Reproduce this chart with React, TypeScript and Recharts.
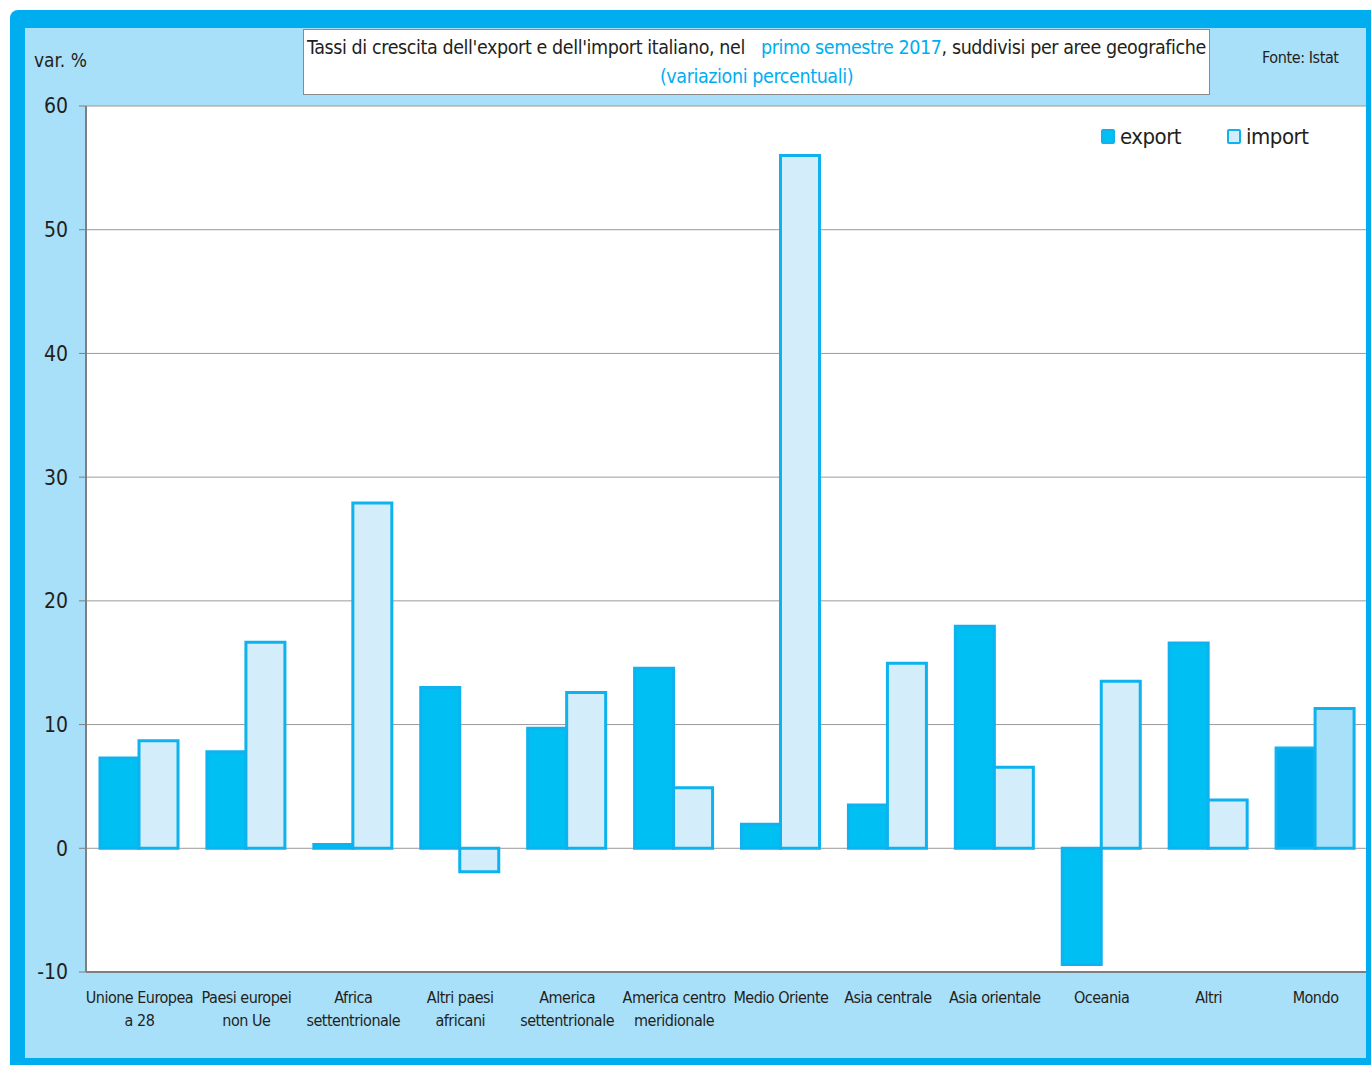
import React from 'react'
import { BarChart, Bar, XAxis, YAxis, CartesianGrid, Cell, Legend } from 'recharts'

const categories = [
  'Unione Europea\na 28',
  'Paesi europei\nnon Ue',
  'Africa\nsettentrionale',
  'Altri paesi\nafricani',
  'America\nsettentrionale',
  'America centro\nmeridionale',
  'Medio Oriente',
  'Asia centrale',
  'Asia orientale',
  'Oceania',
  'Altri',
  'Mondo',
]
const exportValues = [7.3, 7.8, 0.3, 13.0, 9.7, 14.55, 1.95, 3.5, 17.95, -9.4, 16.6, 8.1]
const importValues = [8.7, 16.65, 27.9, -1.9, 12.6, 4.9, 56.0, 14.95, 6.55, 13.5, 3.9, 11.3]
const yTicks = [-10, 0, 10, 20, 30, 40, 50, 60]

const data = categories.map((name, i) => ({
  name,
  export: exportValues[i],
  import: importValues[i],
}))

const FONT = '"DejaVu Sans Condensed", "Noto Sans", sans-serif'
const DARK = '#00AEEF'
const LIGHT_BG = '#A9E0F9'
const EXPORT_FILL = '#00C0F3'
const IMPORT_FILL = '#D3EEFA'
const STROKE = '#0DB2EE'
const TEXT = '#231F20'

// two-line category labels
const CategoryTick = ({ x, y, payload }: any) => {
  const lines = String(payload.value).split('\n')
  return (
    <text
      x={x}
      y={y + 23}
      textAnchor="middle"
      fill={TEXT}
      fontSize={16}
      letterSpacing={-0.5}
      fontFamily={FONT}
    >
      {lines.map((l, i) => (
        <tspan key={i} x={x} dy={i === 0 ? 0 : 23}>
          {l}
        </tspan>
      ))}
    </text>
  )
}

const renderLegend = () => (
  <div
    style={{ display: 'flex', gap: 46, fontFamily: FONT, fontSize: 22, letterSpacing: -0.5, color: TEXT }}
  >
    {[
      { label: 'export', fill: EXPORT_FILL },
      { label: 'import', fill: IMPORT_FILL },
    ].map((item) => (
      <div key={item.label} style={{ display: 'flex', alignItems: 'center', gap: 5 }}>
        <div
          style={{
            width: 10,
            height: 11,
            background: item.fill,
            border: `2.5px solid ${STROKE}`,
            borderRadius: 2,
          }}
        />
        <span>{item.label}</span>
      </div>
    ))}
  </div>
)

export default function App() {
  return (
    <div
      style={{
        position: 'fixed',
        left: 10,
        top: 10,
        width: 1361,
        height: 1055,
        background: DARK,
        borderTopLeftRadius: 8,
        overflow: 'hidden',
      }}
    >
      {/* light inner panel */}
      <div
        style={{
          position: 'absolute',
          left: 15,
          top: 18,
          right: 5,
          bottom: 7,
          background: LIGHT_BG,
        }}
      />

      {/* title box */}
      <div
        style={{
          position: 'absolute',
          left: 293,
          top: 19,
          width: 907,
          height: 66,
          boxSizing: 'border-box',
          background: '#fff',
          border: '1px solid #8a8a8a',
          fontFamily: FONT,
          fontSize: 19.5,
          letterSpacing: -0.4,
          color: TEXT,
          textAlign: 'center',
          lineHeight: '29px',
          paddingTop: 3,
          whiteSpace: 'nowrap',
        }}
      >
        <div>
          Tassi di crescita dell'export e dell'import italiano, nel
          <span style={{ color: DARK, marginLeft: 16 }}>primo semestre 2017</span>, suddivisi per aree geografiche
        </div>
        <div style={{ color: DARK }}>(variazioni percentuali)</div>
      </div>

      <div style={{ position: 'absolute', left: 24, top: 39, fontFamily: FONT, fontSize: 19, color: TEXT }}>
        var. %
      </div>
      <div
        style={{
          position: 'absolute',
          left: 1252,
          top: 38,
          fontFamily: FONT,
          fontSize: 16,
          letterSpacing: -0.4,
          color: TEXT,
        }}
      >
        Fonte: Istat
      </div>

      <div style={{ position: 'absolute', left: 0, top: 0 }}>
        <BarChart
          width={1361}
          height={1042}
          data={data}
          margin={{ top: 96, right: 2, bottom: 0, left: 0 }}
          barSize={39}
          barGap={0}
        >
          <CartesianGrid vertical={false} stroke="#9a9a9a" fill="#ffffff" />
          <XAxis
            dataKey="name"
            height={80}
            interval={0}
            tick={<CategoryTick />}
            tickLine={false}
            axisLine={{ stroke: '#7f7f7f', strokeWidth: 2 }}
          />
          <YAxis
            width={76}
            domain={[-10, 60]}
            ticks={yTicks}
            interval={0}
            tick={{ fill: TEXT, fontSize: 21, fontFamily: FONT }}
            tickSize={7}
            tickMargin={11}
            tickLine={{ stroke: '#7f7f7f' }}
            axisLine={{ stroke: '#7f7f7f', strokeWidth: 2 }}
          />
          <Legend
            content={renderLegend}
            layout="horizontal"
            verticalAlign="middle"
            wrapperStyle={{ top: 114, left: 1091, width: 260 }}
          />
          <Bar dataKey="export" fill={EXPORT_FILL} stroke={STROKE} strokeWidth={3} isAnimationActive={false}>
            {data.map((d, i) => (
              <Cell key={i} fill={d.name === 'Mondo' ? DARK : EXPORT_FILL} />
            ))}
          </Bar>
          <Bar dataKey="import" fill={IMPORT_FILL} stroke={STROKE} strokeWidth={3} isAnimationActive={false}>
            {data.map((d, i) => (
              <Cell key={i} fill={d.name === 'Mondo' ? LIGHT_BG : IMPORT_FILL} />
            ))}
          </Bar>
        </BarChart>
      </div>

      {/* right frame edge drawn over the plot */}
      <div style={{ position: 'absolute', right: 0, top: 0, bottom: 0, width: 5, background: DARK }} />
    </div>
  )
}
